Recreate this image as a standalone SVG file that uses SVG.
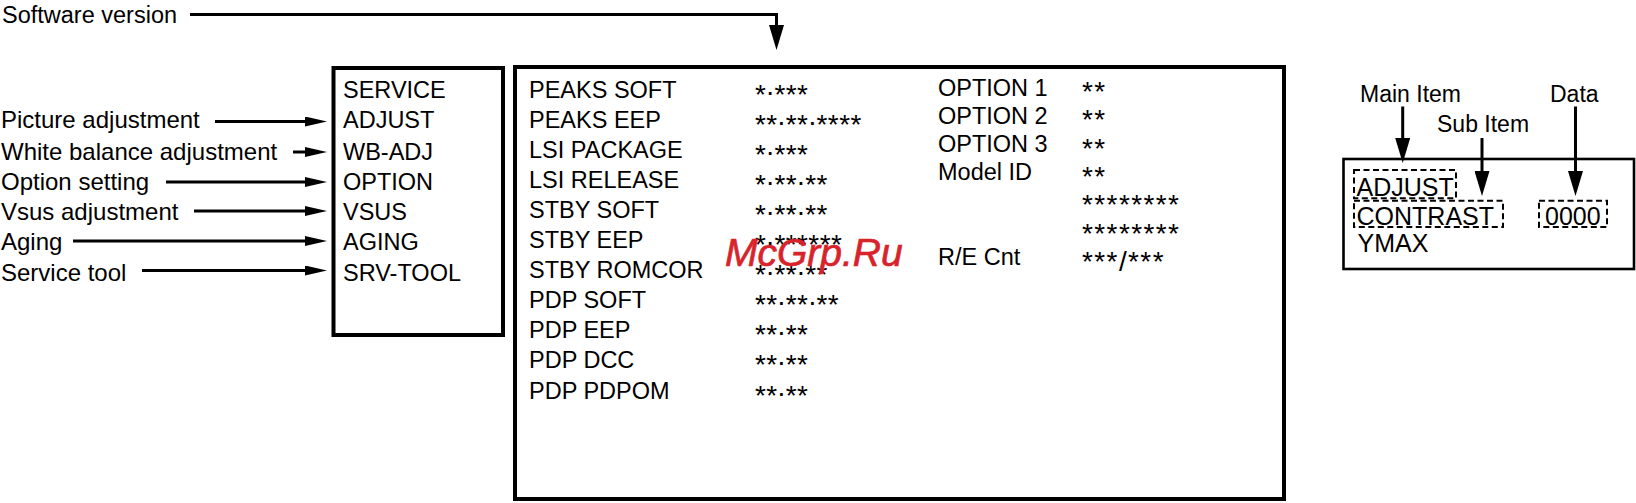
<svg xmlns="http://www.w3.org/2000/svg" width="1636" height="503" viewBox="0 0 1636 503">
<style>
text{font-family:"Liberation Sans",Arial,Helvetica,sans-serif;fill:#000}
.t{font-size:23.5px}
.l{font-size:24px}
.r{font-size:23px}
.rb{font-size:25px}
.v{font-size:28px;letter-spacing:0.4px}
.v2{font-size:28px;letter-spacing:1.4px}
.box{fill:#fff;stroke:#000;stroke-width:4}
.box2{fill:#fff;stroke:#000;stroke-width:2.6}
.dash{fill:none;stroke:#000;stroke-width:2;stroke-dasharray:6 3.5}
.c{fill:none;stroke:#000;stroke-width:3}
.wm{font-size:39px;font-style:italic;fill:#d8232a;stroke:#d8232a;stroke-width:0.7px}
</style>
<defs>
<marker id="ah" viewBox="0 0 22 10" refX="10" refY="5" markerWidth="22" markerHeight="10" markerUnits="userSpaceOnUse" orient="auto"><path d="M0,0 L22,5 L0,10 z" fill="#000"/></marker>
<marker id="av" viewBox="0 0 25 15" refX="10" refY="7.5" markerWidth="25" markerHeight="15" markerUnits="userSpaceOnUse" orient="auto"><path d="M0,0 L25,7.5 L0,15 z" fill="#000"/></marker>
</defs>
<rect width="1636" height="503" fill="#fff"/>

<g id="labels-left">
<text class="t" x="2" y="23">Software version</text>
<text class="l" x="1" y="128.3">Picture adjustment</text>
<text class="l" x="1" y="159.5">White balance adjustment</text>
<text class="l" x="1" y="190">Option setting</text>
<text class="l" x="1" y="220">Vsus adjustment</text>
<text class="l" x="1" y="250">Aging</text>
<text class="l" x="1" y="280.5">Service tool</text>
</g>

<g id="service-menu">
<rect class="box" x="333.5" y="68" width="169.5" height="267"/>
<text class="t" x="343" y="97.5">SERVICE</text>
<text class="t" x="343" y="128.3">ADJUST</text>
<text class="t" x="343" y="159.5">WB-ADJ</text>
<text class="t" x="343" y="190">OPTION</text>
<text class="t" x="343" y="220">VSUS</text>
<text class="t" x="343" y="250">AGING</text>
<text class="t" x="343" y="280.5">SRV-TOOL</text>
</g>

<g id="software-version">
<rect class="box" x="515" y="67" width="769" height="432"/>
<text class="t" x="529" y="97.5">PEAKS SOFT</text>
<text class="t" x="529" y="127.6">PEAKS EEP</text>
<text class="t" x="529" y="157.7">LSI PACKAGE</text>
<text class="t" x="529" y="187.8">LSI RELEASE</text>
<text class="t" x="529" y="217.9">STBY SOFT</text>
<text class="t" x="529" y="248">STBY EEP</text>
<text class="t" x="529" y="278.1">STBY ROMCOR</text>
<text class="t" x="529" y="308.2">PDP SOFT</text>
<text class="t" x="529" y="338.3">PDP EEP</text>
<text class="t" x="529" y="368.4">PDP DCC</text>
<text class="t" x="529" y="398.5">PDP PDPOM</text>
<text class="v" x="755" y="103.5">*<tspan dy="-9">.</tspan><tspan dy="9">***</tspan></text>
<text class="v" x="755" y="133.6">**<tspan dy="-9">.</tspan><tspan dy="9">**</tspan><tspan dy="-9">.</tspan><tspan dy="9">****</tspan></text>
<text class="v" x="755" y="163.7">*<tspan dy="-9">.</tspan><tspan dy="9">***</tspan></text>
<text class="v" x="755" y="193.8">*<tspan dy="-9">.</tspan><tspan dy="9">**</tspan><tspan dy="-9">.</tspan><tspan dy="9">**</tspan></text>
<text class="v" x="755" y="223.9">*<tspan dy="-9">.</tspan><tspan dy="9">**</tspan><tspan dy="-9">.</tspan><tspan dy="9">**</tspan></text>
<text class="v" x="755" y="254">*<tspan dy="-9">.</tspan><tspan dy="9">******</tspan></text>
<text class="v" x="755" y="284.1">*<tspan dy="-9">.</tspan><tspan dy="9">**</tspan><tspan dy="-9">.</tspan><tspan dy="9">**</tspan></text>
<text class="v" x="755" y="314.2">**<tspan dy="-9">.</tspan><tspan dy="9">**</tspan><tspan dy="-9">.</tspan><tspan dy="9">**</tspan></text>
<text class="v" x="755" y="344.3">**<tspan dy="-9">.</tspan><tspan dy="9">**</tspan></text>
<text class="v" x="755" y="374.4">**<tspan dy="-9">.</tspan><tspan dy="9">**</tspan></text>
<text class="v" x="755" y="404.5">**<tspan dy="-9">.</tspan><tspan dy="9">**</tspan></text>
<text class="t" x="938" y="95.5">OPTION 1</text>
<text class="t" x="938" y="123.8">OPTION 2</text>
<text class="t" x="938" y="152.1">OPTION 3</text>
<text class="t" x="938" y="180.4">Model ID</text>
<text class="t" x="938" y="265.3">R/E Cnt</text>
<text class="v2" x="1082" y="101">**</text>
<text class="v2" x="1082" y="129.3">**</text>
<text class="v2" x="1082" y="157.6">**</text>
<text class="v2" x="1082" y="185.9">**</text>
<text class="v2" x="1082" y="214.2">********</text>
<text class="v2" x="1082" y="242.5">********</text>
<text class="v2" x="1082" y="270.8">***/***</text>
</g>

<g id="legend">
<text class="r" x="1360" y="101.7">Main Item</text>
<text class="r" x="1437" y="131.7">Sub Item</text>
<text class="r" x="1550" y="101.7">Data</text>
<rect class="box2" x="1343.5" y="159" width="290.5" height="110"/>
<rect class="dash" x="1354" y="170" width="102" height="28.3"/>
<rect class="dash" x="1354" y="200.7" width="149" height="26.3"/>
<rect class="dash" x="1539" y="200.7" width="68" height="26.3"/>
<text class="rb" x="1356.5" y="196">ADJUST</text>
<text class="rb" x="1356.5" y="224.5">CONTRAST</text>
<text class="rb" x="1545" y="224.5">0000</text>
<text class="rb" x="1357.5" y="251.5">YMAX</text>
</g>

<g id="connectors">
<path class="c" d="M190,14.5 H776.5 V35" marker-end="url(#av)"/>
<path class="c" d="M215,121.5 H315" marker-end="url(#ah)"/>
<path class="c" d="M293,152 H315" marker-end="url(#ah)"/>
<path class="c" d="M166,182 H315" marker-end="url(#ah)"/>
<path class="c" d="M194,211 H315" marker-end="url(#ah)"/>
<path class="c" d="M73,241 H315" marker-end="url(#ah)"/>
<path class="c" d="M142,270.5 H315" marker-end="url(#ah)"/>
<path class="c" d="M1402.7,106.5 V148" marker-end="url(#av)"/>
<path class="c" d="M1482,138 V181" marker-end="url(#av)"/>
<path class="c" d="M1575.5,106.5 V181" marker-end="url(#av)"/>
</g>

<g id="watermark">
<text class="wm" x="725" y="266">McGrp.Ru</text>
</g>
</svg>
